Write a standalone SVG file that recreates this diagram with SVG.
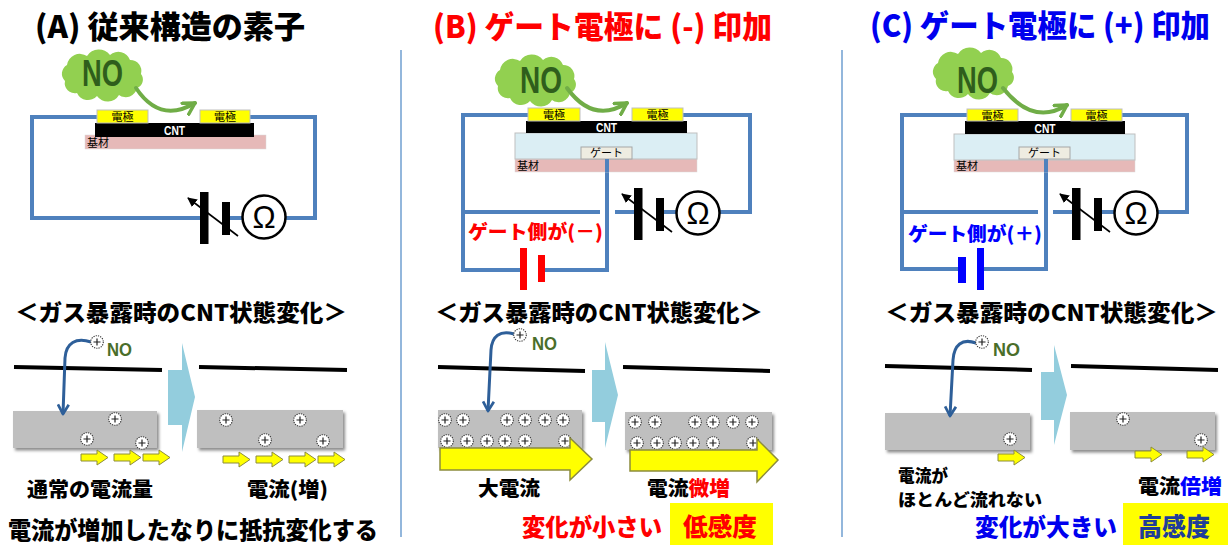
<svg xmlns="http://www.w3.org/2000/svg" width="1231" height="545" viewBox="0 0 1231 545">
<style>
.jp{font-family:"Noto Sans CJK JP","Noto Sans CJK SC",sans-serif;font-weight:900}
.title{font-size:31px}
.hdr{font-size:23px;fill:#000}
.lab{font-size:20px;fill:#000}
.big{font-size:24px}
.small{font-family:"Noto Sans CJK JP",sans-serif;font-size:11px;fill:#000}
.no{font-family:"Liberation Sans",Arial,sans-serif;font-weight:700}
.wire{fill:none;stroke:#4f81bd;stroke-width:4}
.elec{fill:#ffff00;stroke:#bfbfbf;stroke-width:1}
.cnt{fill:#000}
.base{fill:#e6b9b8;stroke:#d9d9d9;stroke-width:0.5}
.ins{fill:#dbeef4;stroke:#bfbfbf;stroke-width:1}
.gate{fill:#eeece1;stroke:#a6a6a6;stroke-width:1}
.cloud{fill:#92d050}
.garrow{fill:none;stroke:#70ad47;stroke-width:4;stroke-linecap:round}
.meter{fill:#fff;stroke:#000;stroke-width:2.5}
.line{stroke:#000;stroke-width:4}
.chip{fill:#bfbfbf;filter:url(#sh)}
.flow{fill:none;stroke:#2e5f99;stroke-width:3}
.ya{fill:#ffff00;stroke:#8c8c3c;stroke-width:1}
.bya{fill:#ffff00;stroke:#8c8c3c;stroke-width:1.5}
.step{fill:#93cddd}
.sep{stroke:#6f9fd0;stroke-width:1.5}
</style>
<defs>
  <filter id="sh" x="-5%" y="-15%" width="115%" height="140%">
    <feDropShadow dx="2" dy="2.5" stdDeviation="1.5" flood-color="#000" flood-opacity="0.45"/>
  </filter>
  <path id="cloudShape" d="M8,30 A10,10 0 0 1 10,14 A13,13 0 0 1 30,5 A14,14 0 0 1 53,4 A12.5,12.5 0 0 1 73,9 A11,11 0 0 1 84,23 A9,9 0 0 1 80,37 A11.5,11.5 0 0 1 62,44 A13,13 0 0 1 40,45 A12,12 0 0 1 20,42 A10,10 0 0 1 8,30 Z"/>
  <marker id="gHead" viewBox="0 0 10 10" refX="8" refY="5" markerWidth="4" markerHeight="4" orient="auto">
    <path d="M1,1 L8,5 L1,9" fill="none" stroke="#70ad47" stroke-width="2.2" stroke-linecap="round" stroke-linejoin="round"/>
  </marker>
  <marker id="bHead" viewBox="0 0 10 10" refX="8" refY="5" markerWidth="4.5" markerHeight="4.5" orient="auto">
    <path d="M1,1 L8,5 L1,9" fill="none" stroke="#2e5f99" stroke-width="2" stroke-linejoin="round"/>
  </marker>
  <marker id="kHead" viewBox="0 0 10 10" refX="9" refY="5" markerWidth="6" markerHeight="6" orient="auto">
    <path d="M0,0 L10,5 L0,10 Z" fill="#000"/>
  </marker>
  <!-- variable battery + ohm meter, origin at the meter centre -->
  <g id="meterSym">
    <rect x="-64" y="-25" width="8.5" height="52" fill="#000"/>
    <rect x="-42" y="-15" width="8" height="33" fill="#000"/>
    <line x1="-26" y1="19" x2="-76" y2="-19" stroke="#000" stroke-width="1.6" marker-end="url(#kHead)"/>
    <circle cx="0" cy="0" r="21.5" class="meter"/>
    <text x="0" y="11" text-anchor="middle" font-family="Liberation Sans,Arial,sans-serif" font-size="31" fill="#000">Ω</text>
  </g>
  <!-- positive charge -->
  <g id="ion">
    <circle r="6.3" fill="#fff" stroke="#333" stroke-width="1.1" stroke-dasharray="1.2 1.1"/>
    <path d="M-3.5,0 H3.5 M0,-3.5 V3.5" stroke="#222" stroke-width="1.2"/>
  </g>
  <path id="ySmall" class="ya" d="M0,4 H16 V0 L27,7.5 L16,15 V11 H0 Z"/>
</defs>

<rect width="1231" height="545" fill="#fff"/>

<!-- panel separators -->
<g id="separators">
  <line class="sep" x1="401" y1="50" x2="401" y2="537"/>
  <line class="sep" x1="842" y1="50" x2="842" y2="537"/>
</g>

<!-- ===================== (A) ===================== -->
<g id="panelA">
  <text class="jp title" x="35" y="38" textLength="270" lengthAdjust="spacingAndGlyphs" fill="#000">(A) 従来構造の素子</text>

  <g id="A-circuit">
    <path class="wire" d="M97,117 H32 V218 H203 M225,218 H315 V117 H250"/>
    <use href="#meterSym" x="264" y="217"/>
  </g>

  <g id="A-device">
    <rect class="base" x="85" y="135" width="181" height="14"/>
    <text class="small" x="87" y="147" font-size="12" fill="#3a2020">基材</text>
    <rect class="cnt" x="95" y="123" width="159" height="14"/>
    <text class="no" x="174.5" y="134.5" font-size="12" fill="#fff" text-anchor="middle" textLength="21" lengthAdjust="spacingAndGlyphs">CNT</text>
    <rect class="elec" x="97" y="110" width="51" height="13"/>
    <text class="small" x="122.5" y="121" text-anchor="middle">電極</text>
    <rect class="elec" x="200" y="110" width="50" height="13"/>
    <text class="small" x="225" y="121" text-anchor="middle">電極</text>
  </g>

  <g id="A-gas">
    <use href="#cloudShape" class="cloud" x="57" y="51"/>
    <text class="no" x="82" y="86" font-size="36" fill="#2f5e1c" textLength="41" lengthAdjust="spacingAndGlyphs">NO</text>
    <path class="garrow" d="M136,88 Q160,124 195,103" marker-end="url(#gHead)"/>
  </g>

  <text class="jp hdr" x="15" y="321" textLength="332" lengthAdjust="spacingAndGlyphs">＜ガス暴露時のCNT状態変化＞</text>

  <g id="A-before">
    <line class="line" x1="14" y1="367" x2="162" y2="370"/>
    <rect class="chip" x="13" y="411" width="144" height="37"/>
    <use href="#ion" x="115" y="419"/>
    <use href="#ion" x="87" y="439"/>
    <use href="#ion" x="142" y="443"/>
    <use href="#ySmall" x="81" y="450"/>
    <use href="#ySmall" x="114" y="450"/>
    <use href="#ySmall" x="143" y="450"/>
    <path class="flow" d="M91,342 C76,337 66,343 65,358 L63,414" marker-end="url(#bHead)"/>
    <use href="#ion" x="97" y="342"/>
    <text class="no" x="107" y="356" font-size="19" fill="#4a6e2a" textLength="25" lengthAdjust="spacingAndGlyphs">NO</text>
  </g>

  <polygon class="step" points="168,370 182,370 182,343 195,397 182,452 182,425 168,425"/>

  <g id="A-after">
    <line class="line" x1="199" y1="367" x2="347" y2="370"/>
    <rect class="chip" x="197" y="410" width="146" height="38"/>
    <use href="#ion" x="226" y="420"/>
    <use href="#ion" x="300" y="420"/>
    <use href="#ion" x="265" y="440"/>
    <use href="#ion" x="323" y="441"/>
    <use href="#ySmall" x="223" y="452"/>
    <use href="#ySmall" x="256" y="452"/>
    <use href="#ySmall" x="289" y="452"/>
    <use href="#ySmall" x="318" y="452"/>
  </g>

  <text class="jp lab" x="27" y="497" font-size="21" textLength="126" lengthAdjust="spacingAndGlyphs">通常の電流量</text>
  <text class="jp lab" x="247" y="497" font-size="21" textLength="81" lengthAdjust="spacingAndGlyphs">電流(増)</text>
  <text class="jp big" x="8" y="539" font-size="25" fill="#000" textLength="370" lengthAdjust="spacingAndGlyphs">電流が増加したなりに抵抗変化する</text>
</g>

<!-- ===================== (B) ===================== -->
<g id="panelB">
  <text class="jp title" x="433" y="38" textLength="339" lengthAdjust="spacingAndGlyphs" fill="#ff0000">(B) ゲート電極に (-) 印加</text>

  <g id="B-circuit">
    <path class="wire" d="M528,115 H463 V270 H520 M545,270 H607 V159 M463,212 H600 M615,212 H637 M659,212 H750 V115 H683"/>
    <use href="#meterSym" x="698" y="213"/>
    <rect x="520" y="248" width="7" height="42" fill="#ff0000"/>
    <rect x="538" y="255" width="7" height="27" fill="#ff0000"/>
    <text class="jp" x="468" y="239" font-size="19" fill="#ff0000" textLength="135" lengthAdjust="spacingAndGlyphs">ゲート側が(－)</text>
  </g>

  <g id="B-device">
    <rect class="base" x="515" y="159" width="182" height="13"/>
    <text class="small" x="517" y="170" font-size="12" fill="#3a2020">基材</text>
    <rect class="ins" x="515" y="133" width="182" height="26"/>
    <rect class="gate" x="581" y="147" width="51" height="12"/>
    <text class="small" x="606.5" y="157" text-anchor="middle" font-size="10.5" fill="#333">ゲート</text>
    <path class="wire" d="M607,159 V172"/>
    <rect class="cnt" x="526" y="121" width="161" height="12"/>
    <text class="no" x="606.5" y="131.5" font-size="12" fill="#fff" text-anchor="middle" textLength="21" lengthAdjust="spacingAndGlyphs">CNT</text>
    <rect class="elec" x="528" y="108" width="52" height="13"/>
    <text class="small" x="554" y="119" text-anchor="middle">電極</text>
    <rect class="elec" x="632" y="108" width="51" height="13"/>
    <text class="small" x="657.5" y="119" text-anchor="middle">電極</text>
  </g>

  <g id="B-gas">
    <use href="#cloudShape" class="cloud" x="490" y="56"/>
    <text class="no" x="520" y="93" font-size="36" fill="#2f5e1c" textLength="42" lengthAdjust="spacingAndGlyphs">NO</text>
    <path class="garrow" d="M567,88 Q593,124 627,103" marker-end="url(#gHead)"/>
  </g>

  <text class="jp hdr" x="435" y="321" textLength="328" lengthAdjust="spacingAndGlyphs">＜ガス暴露時のCNT状態変化＞</text>

  <g id="B-before">
    <line class="line" x1="438" y1="367" x2="585" y2="371"/>
    <rect class="chip" x="438" y="410" width="144" height="38"/>
    <use href="#ion" x="445" y="420"/><use href="#ion" x="463" y="420"/>
    <use href="#ion" x="507" y="420"/><use href="#ion" x="525" y="420"/>
    <use href="#ion" x="545" y="420"/><use href="#ion" x="563" y="420"/>
    <use href="#ion" x="447" y="441"/><use href="#ion" x="467" y="441"/>
    <use href="#ion" x="487" y="441"/><use href="#ion" x="505" y="441"/>
    <use href="#ion" x="525" y="441"/><use href="#ion" x="565" y="441"/>
    <polygon class="bya" points="440,448 570,448 570,438 592,459 570,480 570,470 440,470"/>
    <path class="flow" d="M514,334 C500,330 492,336 491,350 L488,411" marker-end="url(#bHead)"/>
    <use href="#ion" x="520" y="335"/>
    <text class="no" x="532" y="350" font-size="19" fill="#4a6e2a" textLength="25" lengthAdjust="spacingAndGlyphs">NO</text>
  </g>

  <polygon class="step" points="592,370 605,370 605,342 618,395 605,448 605,422 592,422"/>

  <g id="B-after">
    <line class="line" x1="623" y1="367" x2="770" y2="371"/>
    <rect class="chip" x="625" y="412" width="147" height="38"/>
    <use href="#ion" x="635" y="422"/><use href="#ion" x="655" y="422"/>
    <use href="#ion" x="695" y="422"/><use href="#ion" x="713" y="422"/>
    <use href="#ion" x="733" y="422"/><use href="#ion" x="752" y="422"/>
    <use href="#ion" x="637" y="443"/><use href="#ion" x="657" y="443"/>
    <use href="#ion" x="675" y="443"/><use href="#ion" x="693" y="443"/>
    <use href="#ion" x="713" y="443"/><use href="#ion" x="753" y="443"/>
    <polygon class="bya" points="630,450 757,450 757,439 778,460 757,482 757,471 630,471"/>
  </g>

  <text class="jp lab" x="478" y="496" font-size="21" textLength="62" lengthAdjust="spacingAndGlyphs">大電流</text>
  <text class="jp lab" x="647" y="496" font-size="21" textLength="83" lengthAdjust="spacingAndGlyphs">電流<tspan fill="#ff0000">微増</tspan></text>
  <text class="jp big" x="522" y="536" fill="#ff0000" textLength="140" lengthAdjust="spacingAndGlyphs">変化が小さい</text>
  <rect x="670" y="503" width="103" height="42" fill="#ffff00"/>
  <text class="jp" x="683" y="536" font-size="25" fill="#ff0000" textLength="74" lengthAdjust="spacingAndGlyphs">低感度</text>
</g>

<!-- ===================== (C) ===================== -->
<g id="panelC">
  <text class="jp title" x="870" y="37" textLength="340" lengthAdjust="spacingAndGlyphs" fill="#0000ee">(C) ゲート電極に (+) 印加</text>

  <g id="C-circuit">
    <path class="wire" d="M967,115 H902 V269 H958 M984,269 H1046 V160 M902,212 H1038 M1053,212 H1075 M1097,212 H1187 V115 H1122"/>
    <use href="#meterSym" x="1136" y="213"/>
    <rect x="958" y="257" width="8" height="26" fill="#0000ff"/>
    <rect x="977" y="248" width="7" height="42" fill="#0000ff"/>
    <text class="jp" x="908" y="241" font-size="19" fill="#0000ff" textLength="134" lengthAdjust="spacingAndGlyphs">ゲート側が(＋)</text>
  </g>

  <g id="C-device">
    <rect class="base" x="954" y="160" width="181" height="12"/>
    <text class="small" x="956" y="170" font-size="12" fill="#3a2020">基材</text>
    <rect class="ins" x="954" y="134" width="181" height="26"/>
    <rect class="gate" x="1019" y="147" width="51" height="12"/>
    <text class="small" x="1044.5" y="157" text-anchor="middle" font-size="10.5" fill="#333">ゲート</text>
    <path class="wire" d="M1046,159 V172"/>
    <rect class="cnt" x="965" y="121" width="160" height="13"/>
    <text class="no" x="1045" y="132.5" font-size="12" fill="#fff" text-anchor="middle" textLength="21" lengthAdjust="spacingAndGlyphs">CNT</text>
    <rect class="elec" x="967" y="109" width="51" height="12"/>
    <text class="small" x="992.5" y="119.5" text-anchor="middle">電極</text>
    <rect class="elec" x="1071" y="109" width="51" height="12"/>
    <text class="small" x="1096.5" y="119.5" text-anchor="middle">電極</text>
  </g>

  <g id="C-gas">
    <use href="#cloudShape" class="cloud" x="928" y="49"/>
    <text class="no" x="957" y="93" font-size="36" fill="#2f5e1c" textLength="41" lengthAdjust="spacingAndGlyphs">NO</text>
    <path class="garrow" d="M1003,88 Q1033,126 1067,105" marker-end="url(#gHead)"/>
  </g>

  <text class="jp hdr" x="885" y="321" textLength="333" lengthAdjust="spacingAndGlyphs">＜ガス暴露時のCNT状態変化＞</text>

  <g id="C-before">
    <line class="line" x1="885" y1="366" x2="1032" y2="370"/>
    <rect class="chip" x="885" y="413" width="145" height="37"/>
    <use href="#ion" x="1010" y="439"/>
    <use href="#ySmall" x="998" y="450"/>
    <path class="flow" d="M976,343 C962,338 954,345 953,360 L950,416" marker-end="url(#bHead)"/>
    <use href="#ion" x="982" y="342"/>
    <text class="no" x="993" y="356" font-size="19" fill="#4a6e2a" textLength="27" lengthAdjust="spacingAndGlyphs">NO</text>
  </g>

  <polygon class="step" points="1041,372 1054,372 1054,345 1067,395 1054,445 1054,420 1041,420"/>

  <g id="C-after">
    <line class="line" x1="1071" y1="366" x2="1218" y2="370"/>
    <rect class="chip" x="1070" y="412" width="145" height="38"/>
    <use href="#ion" x="1123" y="419"/>
    <use href="#ion" x="1201" y="440"/>
    <use href="#ySmall" x="1135" y="447"/>
    <use href="#ySmall" x="1187" y="447"/>
  </g>

  <text class="jp" x="898" y="482" font-size="17.5" fill="#000" textLength="50" lengthAdjust="spacingAndGlyphs">電流が</text>
  <text class="jp" x="898" y="506" font-size="17.5" fill="#000" textLength="144" lengthAdjust="spacingAndGlyphs">ほとんど流れない</text>
  <text class="jp lab" x="1138" y="494" font-size="21" textLength="84" lengthAdjust="spacingAndGlyphs">電流<tspan fill="#0000ff">倍増</tspan></text>
  <text class="jp big" x="975" y="536" fill="#0000ee" textLength="142" lengthAdjust="spacingAndGlyphs">変化が大きい</text>
  <rect x="1123" y="503" width="105" height="42" fill="#ffff00"/>
  <text class="jp" x="1138" y="536" font-size="25" fill="#1f3d99" textLength="72" lengthAdjust="spacingAndGlyphs">高感度</text>
</g>
</svg>
